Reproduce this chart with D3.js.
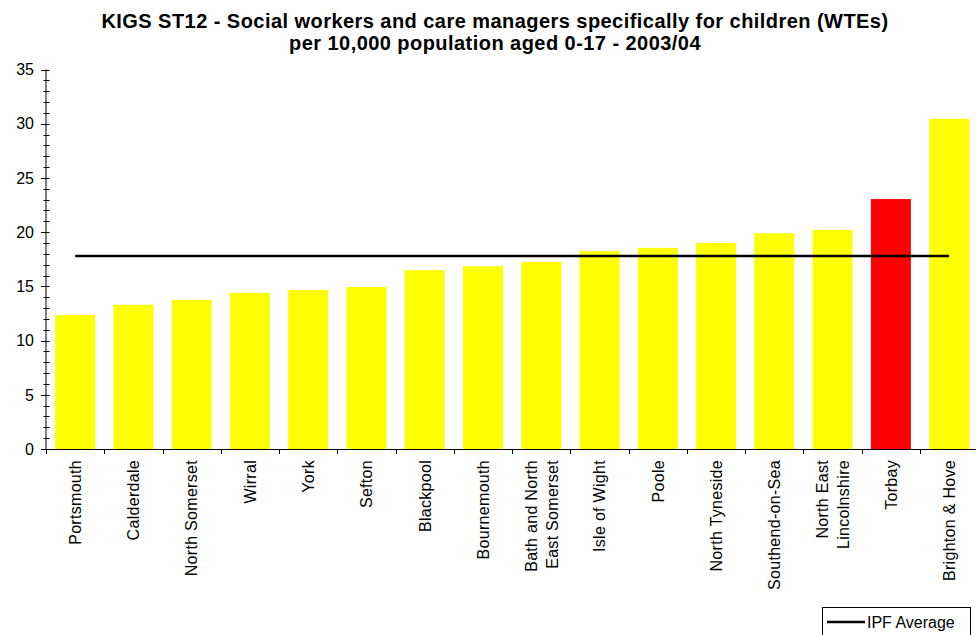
<!DOCTYPE html>
<html>
<head>
<meta charset="utf-8">
<script src="https://cdn.jsdelivr.net/npm/d3@7"></script>
<style>
  html, body { margin: 0; padding: 0; background: #fff; }
  svg { display: block; font-family: "Liberation Sans", Arial, sans-serif; }
</style>
</head>
<body>
<svg id="chart" width="976" height="635"></svg>
<script>
// Authorities, in ascending order of the indicator ("\n" splits a label over two lines)
const categories = [
  "Portsmouth", "Calderdale", "North Somerset", "Wirral", "York", "Sefton",
  "Blackpool", "Bournemouth", "Bath and North\nEast Somerset", "Isle of Wight",
  "Poole", "North Tyneside", "Southend-on-Sea", "North East\nLincolnshire",
  "Torbay", "Brighton & Hove"
];
// WTEs per 10,000 population aged 0-17
const values = [
  12.35, 13.3, 13.75, 14.4, 14.65, 14.95,
  16.5, 16.85, 17.25, 18.25,
  18.55, 19.0, 19.9, 20.2,
  23.05, 30.45
];
const highlighted = ["Torbay"];
const ipfAverage = 17.8;
const yTicks = [0, 5, 10, 15, 20, 25, 30, 35];
const titleLines = [
  "KIGS ST12 - Social workers and care managers specifically for children (WTEs)",
  "per 10,000 population aged 0-17 - 2003/04"
];
const legendLabel = "IPF Average";

const svg = d3.select("#chart");

const x = d3.scaleBand()
  .domain(categories)
  .range([46, 978.3])
  .paddingInner(0.3136)
  .paddingOuter(0.1568);

const y = d3.scaleLinear()
  .domain([0, 35])
  .range([449, 69.5]);

// Title
svg.append("g").selectAll("text")
  .data(titleLines)
  .join("text")
  .attr("x", 495)
  .attr("y", (d, i) => 28 + i * 22)
  .attr("text-anchor", "middle")
  .attr("font-size", "20px")
  .attr("font-weight", "bold")
  .attr("letter-spacing", "0.45px")
  .attr("fill", "#000")
  .text(d => d);

// Bars
svg.append("g").selectAll("rect")
  .data(categories.map((c, i) => ({ c, v: values[i] })))
  .join("rect")
  .attr("x", d => x(d.c))
  .attr("width", x.bandwidth())
  .attr("y", d => y(d.v))
  .attr("height", d => y(0) - y(d.v))
  .attr("fill", d => highlighted.includes(d.c) ? "#ff0000" : "#ffff00");

// IPF average line, from first to last category centre
const half = x.bandwidth() / 2;
svg.append("line")
  .attr("x1", x(categories[0]) + half)
  .attr("x2", x(categories[categories.length - 1]) + half)
  .attr("y1", y(ipfAverage))
  .attr("y2", y(ipfAverage))
  .attr("stroke", "#000")
  .attr("stroke-width", 2.6);

// Y axis: major ticks every 5 (labelled), minor ticks every 1, crossing the axis line
const yAxisG = svg.append("g");
yAxisG.append("line")
  .attr("x1", 46).attr("x2", 46)
  .attr("y1", y(35)).attr("y2", y(0))
  .attr("stroke", "#000").attr("stroke-width", 1);
yAxisG.selectAll("line.minor")
  .data(d3.range(0, 36).filter(v => v % 5 !== 0))
  .join("line")
  .attr("class", "minor")
  .attr("x1", 43.5).attr("x2", 49.5)
  .attr("y1", d => Math.round(y(d)) + 0.5)
  .attr("y2", d => Math.round(y(d)) + 0.5)
  .attr("stroke", "#000");
yAxisG.selectAll("line.major")
  .data(yTicks)
  .join("line")
  .attr("class", "major")
  .attr("x1", 41).attr("x2", 49.5)
  .attr("y1", d => Math.round(y(d)) + 0.5)
  .attr("y2", d => Math.round(y(d)) + 0.5)
  .attr("stroke", "#000");
yAxisG.selectAll("text")
  .data(yTicks)
  .join("text")
  .attr("x", 34)
  .attr("y", d => y(d))
  .attr("dy", "0.36em")
  .attr("text-anchor", "end")
  .attr("font-size", "16px")
  .attr("fill", "#000")
  .text(d => d);

// X axis: baseline and ticks at category boundaries
const xAxisG = svg.append("g");
xAxisG.append("line")
  .attr("x1", 46).attr("x2", 976)
  .attr("y1", 449.5).attr("y2", 449.5)
  .attr("stroke", "#000");
const bounds = categories.map(c => x(c) - x.step() * x.paddingInner() / 2);
xAxisG.selectAll("line.tick")
  .data(bounds)
  .join("line")
  .attr("class", "tick")
  .attr("x1", d => Math.round(d) + 0.5)
  .attr("x2", d => Math.round(d) + 0.5)
  .attr("y1", 449).attr("y2", 454)
  .attr("stroke", "#000");

// Rotated category labels
const labelG = svg.append("g");
categories.forEach(c => {
  const lines = c.split("\n");
  const cx = x(c) + half;
  lines.forEach((ln, i) => {
    const off = (i - (lines.length - 1) / 2) * 21;
    labelG.append("text")
      .attr("transform", `translate(${cx + off},460) rotate(-90)`)
      .attr("text-anchor", "end")
      .attr("dy", "0.36em")
      .attr("font-size", "16px")
      .attr("letter-spacing", "0.3px")
      .attr("fill", "#000")
      .text(ln);
  });
});

// Legend
const lg = svg.append("g");
lg.append("rect")
  .attr("x", 822.5).attr("y", 607.5)
  .attr("width", 148).attr("height", 40)
  .attr("fill", "#fff").attr("stroke", "#000");
lg.append("line")
  .attr("x1", 827).attr("x2", 865)
  .attr("y1", 622).attr("y2", 622)
  .attr("stroke", "#000").attr("stroke-width", 2.6);
lg.append("text")
  .attr("x", 867).attr("y", 627.5)
  .attr("font-size", "16px")
  .attr("fill", "#000")
  .text(legendLabel);
</script>
</body>
</html>
